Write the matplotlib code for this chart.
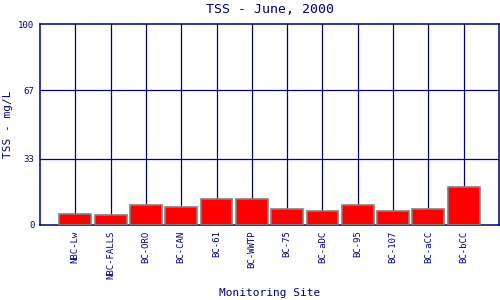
import matplotlib
matplotlib.use("Agg")
import matplotlib.pyplot as plt
import numpy as np

sites = ["NBC-Lw", "NBC-FALLS", "BC-ORO", "BC-CAN", "BC-61", "BC-WWTP",
         "BC-75", "BC-aDC", "BC-95", "BC-107", "BC-aCC", "BC-bCC"]
tss = [5.3, 4.8, 9.8, 8.8, 12.7, 12.7, 7.8, 6.8, 9.8, 6.8, 7.8, 18.8]
yticks = [0, 33, 67, 100]

NAVY = "#000080"
plt.rcParams["font.family"] = ["DejaVu Sans Mono"]

fig = plt.figure(figsize=(5, 3), dpi=100)
ax = fig.add_axes([0.08, 0.25, 0.918, 0.67])

x = np.arange(len(sites))
ax.bar(x, tss, width=0.9, color="red", edgecolor="gray", linewidth=1.2, zorder=3)

ax.set_xlim(-1, len(sites))
ax.set_ylim(0, 100)
ax.set_yticks(yticks)
ax.set_yticklabels([str(t) for t in yticks])
ax.set_xticks(x)
ax.set_xticklabels(sites, rotation=90)

for xi in x:
    ax.axvline(xi, color=NAVY, lw=0.9, zorder=1)
for yt in yticks[1:-1]:
    ax.axhline(yt, color=NAVY, lw=0.9, zorder=1)

for s in ax.spines.values():
    s.set_color(NAVY)
    s.set_linewidth(1.1)

ax.tick_params(length=0, labelsize=6.5, labelcolor=NAVY, pad=4)
ax.set_title("TSS - June, 2000", color=NAVY, fontsize=9.5, pad=8)
ax.set_xlabel("Monitoring Site", color=NAVY, fontsize=8, va="center")
ax.set_ylabel("TSS - mg/L", color=NAVY, fontsize=8, va="center")
ax.xaxis.set_label_coords(0.5, -0.34)
ax.yaxis.set_label_coords(-0.069, 0.5)

fig.savefig("out.png", dpi=100)
